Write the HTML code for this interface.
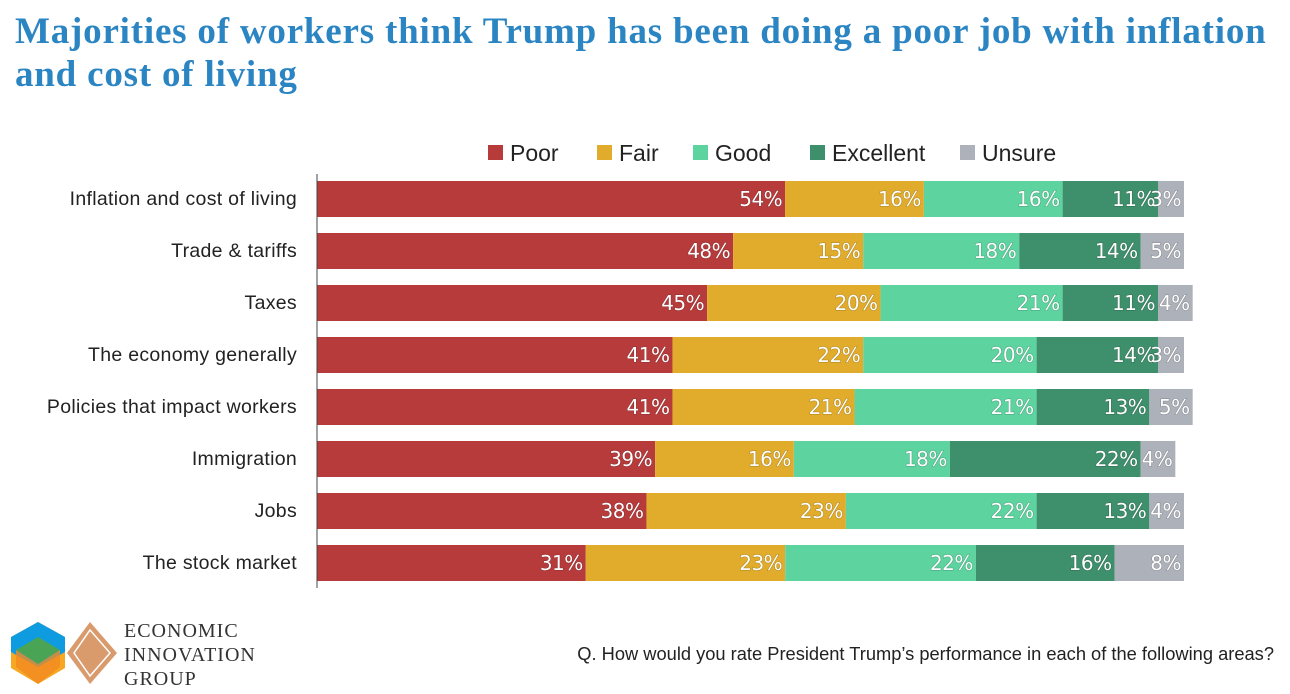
<!DOCTYPE html>
<html><head><meta charset="utf-8"><style>
body{margin:0;width:1290px;height:694px;background:#fff;overflow:hidden;position:relative;font-family:"Liberation Sans",sans-serif}
#title{position:absolute;left:15px;top:10px;width:1268px;font-family:"Liberation Serif",serif;font-weight:bold;font-size:37px;letter-spacing:0.8px;line-height:43px;color:#2b85c3;margin:0}
svg{position:absolute;left:0;top:0}
#q{position:absolute;right:16px;top:643px;font-size:18.3px;color:#222;white-space:nowrap}
</style></head><body>
<h1 id="title">Majorities of workers think Trump has been doing a poor job with inflation and cost of living</h1>
<svg id="chart" width="1290" height="694"></svg>
<div id="q">Q. How would you rate President Trump’s performance in each of the following areas?</div>
<script>
const categories=["Inflation and cost of living","Trade & tariffs","Taxes","The economy generally","Policies that impact workers","Immigration","Jobs","The stock market"];
const seriesNames=["Poor","Fair","Good","Excellent","Unsure"];
const poor=[54,48,45,41,41,39,38,31];
const fair=[16,15,20,22,21,16,23,23];
const good=[16,18,21,20,21,18,22,22];
const excellent=[11,14,11,14,13,22,13,16];
const unsure=[3,5,4,3,5,4,4,8];
const series=[poor,fair,good,excellent,unsure];
const colors=["#b83b3c","#e1ac2b","#5dd39f","#3e8f6b","#adb1b9"];
const NS="http://www.w3.org/2000/svg";
const svg=document.getElementById('chart');
const x0=317,scale=8.67,rowTop=181,pitch=52,barH=36;
const xs=v=>x0+v*scale;
const yRow=i=>rowTop+i*pitch;
function mk(t,a){const e=document.createElementNS(NS,t);for(const k in a)e.setAttribute(k,a[k]);svg.appendChild(e);return e;}
const legX=[488,597,693,810,960];
seriesNames.forEach((n,j)=>{
 const r=mk('rect',{x:legX[j],y:145,width:15,height:15,fill:colors[j]});
 
 
 const t=mk('text',{x:legX[j]+22,y:161,'font-size':23,fill:'#222','font-family':'Liberation Sans, sans-serif'});
 t.textContent=n;
 
 
});
categories.forEach((c,i)=>{
 const y=yRow(i);
 const t=mk('text',{x:297,y:y+barH/2+6,'text-anchor':'end','font-size':19.5,fill:'#222','font-family':'Liberation Sans, sans-serif','letter-spacing':'0.3'});
 t.textContent=c;
 
 
 let cum=0;
 series.forEach((s,j)=>{
  const v=s[i];
  const r=mk('rect',{x:xs(cum),y:y,width:v*scale,height:barH,fill:colors[j]});
  
  
  cum+=v;
  const l=mk('text',{x:xs(cum)-3,y:y+barH/2+7,'text-anchor':'end','font-size':20,fill:'#fff','font-family':'DejaVu Sans, sans-serif',style:'paint-order:stroke;stroke:rgba(0,0,0,0.25);stroke-width:1px;letter-spacing:-0.5px'});
  l.textContent=v+'%';
  
  
 });
});
const ax=mk('line',{x1:x0,y1:174,x2:x0,y2:588,stroke:'#444','stroke-width':1});


const g=document.createElementNS(NS,'g');svg.appendChild(g);


g.innerHTML='<polygon points="38,622 65,637 65,668 38,684 11,668 11,637" fill="#f7a823"/><polygon points="38,622 65,637 65,652 38,667 11,652 11,637" fill="#0f9be0"/><polygon points="38,637 60,650 38,664 16,650" fill="#4aa455"/><polygon points="38,664 16,650 16,667 38,684 60,667 60,650" fill="#f28a22" opacity="0.8"/><polygon points="90,622 117,653 90,684 67,653" fill="#d99a6c"/><polygon points="90,630 110,653 90,676 74,653" fill="none" stroke="#fff" stroke-width="1.5"/>';
['ECONOMIC','INNOVATION','GROUP'].forEach((w,i)=>{
 const t=mk('text',{x:124,y:637+i*24,'font-size':20,fill:'#333','font-family':'Liberation Serif, serif','letter-spacing':'1'});
 t.textContent=w;
 
 
});
</script>
</body></html>
